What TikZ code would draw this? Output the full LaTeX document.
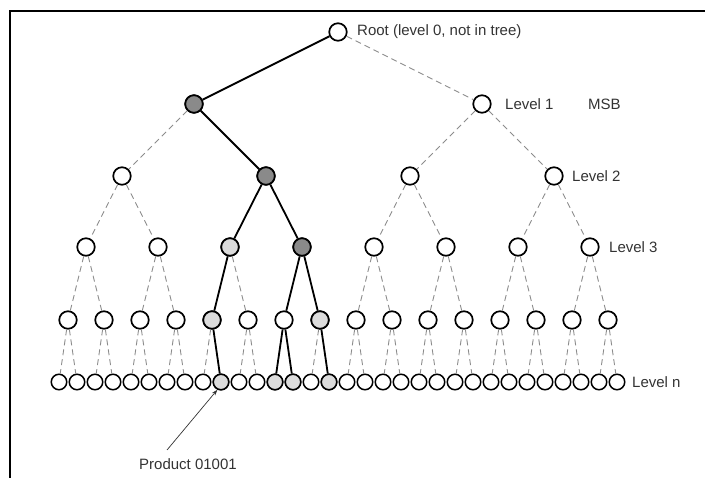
\documentclass[tikz,border=0pt]{standalone}
\usepackage{fontspec}
\setmainfont{Liberation Sans}
\usetikzlibrary{arrows.meta}
\definecolor{darkfill}{HTML}{8A8A8A}
\definecolor{lightfill}{HTML}{DCDCDC}
\definecolor{dashgray}{HTML}{8C8C8C}
\definecolor{labelgray}{HTML}{333333}
\begin{document}
\begin{tikzpicture}[x=1pt,y=-1pt,
  tn/.style={circle, draw=black, line width=1.7pt, fill=white, minimum size=17.5pt, inner sep=0pt},
  bn/.style={circle, draw=black, line width=1.5pt, fill=white, minimum size=15.5pt, inner sep=0pt},
  dk/.style={fill=darkfill},
  lt/.style={fill=lightfill},
  dedge/.style={draw=dashgray, line width=0.9pt, dash pattern=on 6pt off 4pt},
  sedge/.style={draw=black, line width=1.8pt},
  lbl/.style={font=\fontsize{15}{17}\selectfont, text=labelgray, anchor=west, inner sep=0pt}
]
\useasboundingbox (0,0) rectangle (705,478);
\draw[line width=2.2pt] (10,478) -- (10,11) -- (705,11);

% nodes
\node[tn] (r) at (338,32) {};
\foreach \i in {0,1} { \node[tn] (a\i) at ({194+288*\i},104) {}; }
\foreach \i in {0,...,3} { \node[tn] (b\i) at ({122+144*\i},176) {}; }
\foreach \i in {0,...,7} { \node[tn] (c\i) at ({86+72*\i},247) {}; }
\foreach \i in {0,...,15} { \node[tn] (d\i) at ({68+36*\i},320) {}; }
\foreach \i in {0,...,31} { \node[bn] (e\i) at ({59+18*\i},382) {}; }

% highlighted fills
\node[tn,dk] at (a0) {};
\node[tn,dk] at (b1) {};
\node[tn,lt] at (c2) {};
\node[tn,dk] at (c3) {};
\node[tn,lt] at (d4) {};
\node[tn,lt] at (d7) {};
\foreach \j in {9,12,13,15} { \node[bn,lt] at (e\j) {}; }

% dashed edges
\foreach \i in {0,1} { \draw[dedge] (r) -- (a\i); }
\foreach \i [evaluate=\i as \p using {int(floor(\i/2))}] in {0,...,3} { \draw[dedge] (a\p) -- (b\i); }
\foreach \i [evaluate=\i as \p using {int(floor(\i/2))}] in {0,...,7} { \draw[dedge] (b\p) -- (c\i); }
\foreach \i [evaluate=\i as \p using {int(floor(\i/2))}] in {0,...,15} { \draw[dedge] (c\p) -- (d\i); }
\foreach \i [evaluate=\i as \p using {int(floor(\i/2))}] in {0,...,31} { \draw[dedge] (d\p) -- (e\i); }

% solid path edges
\draw[sedge] (r) -- (a0);
\draw[sedge] (a0) -- (b1);
\draw[sedge] (b1) -- (c2);
\draw[sedge] (b1) -- (c3);
\draw[sedge] (c2) -- (d4);
\draw[sedge] (c3) -- (d6);
\draw[sedge] (c3) -- (d7);
\draw[sedge] (d4) -- (e9);
\draw[sedge] (d6) -- (e12);
\draw[sedge] (d6) -- (e13);
\draw[sedge] (d7) -- (e15);

% labels
\node[lbl] (lr) at (357,32) {Root (level 0, not in tree)};
\node[lbl] (l1) at (505,104) {Level 1};
\node[lbl] (msb) at (588,104) {MSB};
\node[lbl] (l2) at (572,176) {Level 2};
\node[lbl] (l3) at (609,247) {Level 3};
\node[lbl] (ln) at (632,382) {Level n};
\node[lbl, anchor=center] (prod) at (188,464) {Product 01001};
\coordinate (pa) at (167,450);
\draw[draw=black!80, line width=0.7pt, -{Stealth[length=6pt,width=4pt]}] (pa) -- (e9.-115);
\end{tikzpicture}
\end{document}
